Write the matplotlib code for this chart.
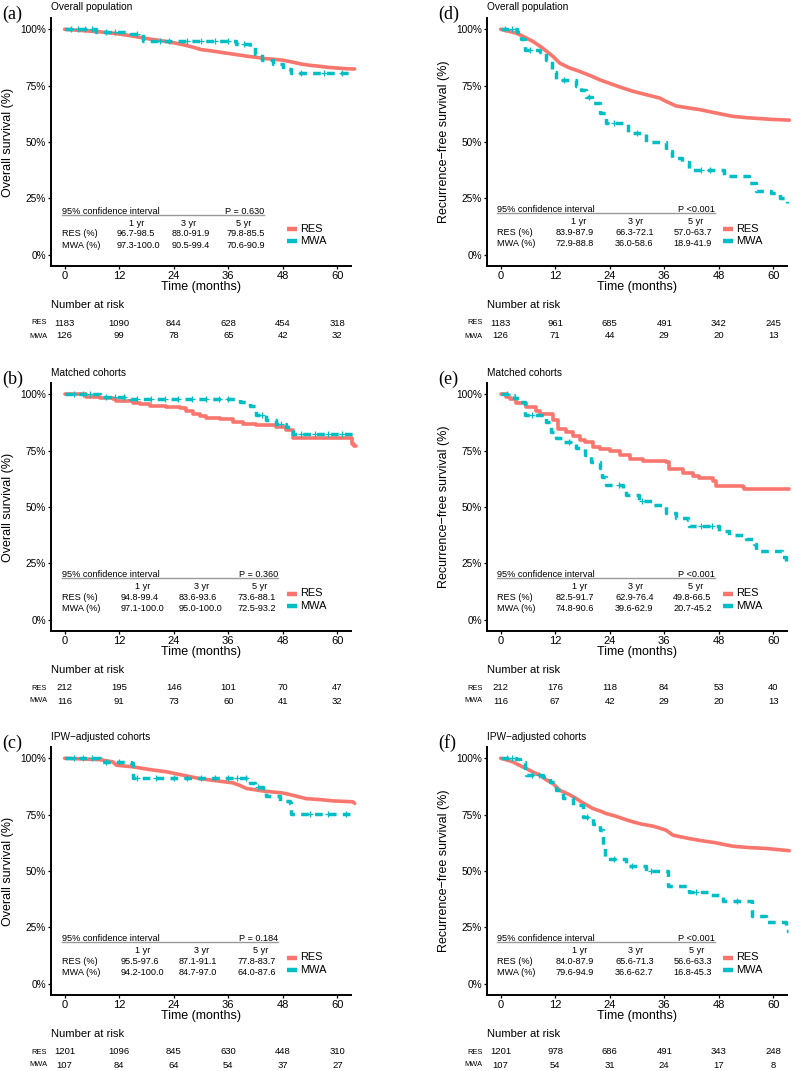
import numpy as np
import matplotlib
matplotlib.use("Agg")
import matplotlib.pyplot as plt
from matplotlib.lines import Line2D
from matplotlib.transforms import blended_transform_factory

plt.rcParams['font.family'] = ['Liberation Sans', 'DejaVu Sans']

RES_COLOR = '#F8766D'
MWA_COLOR = '#00BFC4'

risk_times = [0, 12, 24, 36, 48, 60]
x_ticks = [0, 12, 24, 36, 48, 60]
y_ticks = [0, 0.25, 0.5, 0.75, 1.0]
y_tick_labels = ['0%', '25%', '50%', '75%', '100%']
ci_years = ['1 yr', '3 yr', '5 yr']

# ---------------- panel (a): OS overall population ----------------
a_res_t = [0, 2, 4, 6, 8, 10, 12, 14, 16, 18, 20, 22, 24, 26, 28, 30, 32, 34, 36, 38, 40, 42, 44, 46, 48,
           50, 52, 54, 56, 58, 60, 62, 63.8]
a_res_s = [1.0, 0.997, 0.994, 0.991, 0.988, 0.984, 0.979, 0.973, 0.966, 0.959, 0.953, 0.947, 0.940, 0.932,
           0.922, 0.910, 0.905, 0.899, 0.893, 0.887, 0.881, 0.876, 0.870, 0.867, 0.863, 0.855, 0.846, 0.840,
           0.836, 0.831, 0.828, 0.825, 0.824]
a_mwa_t = [0, 7, 14.6, 17.2, 37.8, 40.7, 41.8, 43.5, 45.8, 48, 49.8, 63.7]
a_mwa_s = [1.0, 0.99, 0.98, 0.95, 0.935, 0.92, 0.89, 0.863, 0.845, 0.823, 0.804, 0.804]
a_mwa_cens = [1.5, 3, 4.5, 6, 9, 11, 16, 21, 23, 27, 30, 33, 36, 39.5, 52, 57, 61]
a_res_risk = [1183, 1090, 844, 628, 454, 318]
a_mwa_risk = [126, 99, 78, 65, 42, 32]
a_p = 'P = 0.630'
a_res_ci = ['96.7-98.5', '88.0-91.9', '79.8-85.5']
a_mwa_ci = ['97.3-100.0', '90.5-99.4', '70.6-90.9']

# ---------------- panel (b): OS matched cohorts ----------------
b_res_t = [0, 4.8, 7.7, 10.6, 11.4, 15, 16.5, 18.7, 22.4, 25.3, 26.8, 28.2, 29.7, 31.2, 34.1, 37, 39.2,
           42.2, 46.5, 48.7, 50.2, 63.3, 63.6, 64]
b_res_s = [1.0, 0.99, 0.984, 0.977, 0.968, 0.962, 0.958, 0.95, 0.943, 0.939, 0.928, 0.914, 0.904, 0.895,
           0.889, 0.877, 0.87, 0.863, 0.855, 0.84, 0.808, 0.78, 0.77, 0.77]
b_mwa_t = [0, 7.7, 14.3, 38.5, 40.7, 42.1, 44.3, 46.5, 48.7, 50.2, 63.7]
b_mwa_s = [1.0, 0.99, 0.98, 0.965, 0.95, 0.906, 0.885, 0.866, 0.855, 0.826, 0.826]
b_mwa_cens = [2, 4, 5.5, 9, 11, 13, 16, 19, 22, 25, 28, 31, 34, 36, 43.5, 47.5, 52, 55, 58, 61]
b_res_risk = [212, 195, 146, 101, 70, 47]
b_mwa_risk = [116, 91, 73, 60, 41, 32]
b_p = 'P = 0.360'
b_res_ci = ['94.8-99.4', '83.6-93.6', '73.6-88.1']
b_mwa_ci = ['97.1-100.0', '95.0-100.0', '72.5-93.2']

# ---------------- panel (c): OS IPW-adjusted cohorts ----------------
c_res_t = [0, 4, 7.7, 10.6, 11.4, 15, 18.7, 22.4, 26, 29.7, 33.4, 37, 38.5, 40, 43.6, 48, 50.2, 53.1,
           56, 59, 63.4, 63.8]
c_res_s = [1.0, 0.997, 0.994, 0.984, 0.969, 0.962, 0.95, 0.94, 0.925, 0.91, 0.90, 0.891, 0.88, 0.866,
           0.855, 0.846, 0.836, 0.821, 0.817, 0.811, 0.807, 0.80]
c_mwa_t = [0, 7.7, 14.6, 15, 40.8, 41.8, 43.6, 44.4, 47.3, 49.5, 49.8, 63.7]
c_mwa_s = [1.0, 0.984, 0.977, 0.912, 0.889, 0.874, 0.854, 0.832, 0.81, 0.80, 0.752, 0.752]
c_mwa_cens = [2, 4, 6, 9, 12, 16, 20, 24, 27, 30, 33, 36, 38, 40, 42.5, 54, 58, 62]
c_res_risk = [1201, 1096, 845, 630, 448, 310]
c_mwa_risk = [107, 84, 64, 54, 37, 27]
c_p = 'P = 0.184'
c_res_ci = ['95.5-97.6', '87.1-91.1', '77.8-83.7']
c_mwa_ci = ['94.2-100.0', '84.7-97.0', '64.0-87.6']

# ---------------- panel (d): RFS overall population ----------------
d_res_t = [0, 2, 3.4, 5, 7.1, 9, 11.5, 13, 15, 17.4, 20, 21.8, 24, 26.2, 29.1, 32, 35, 36.4, 38.6, 41,
           43.7, 47.3, 51, 54, 56.9, 60, 63.5]
d_res_s = [1.0, 0.99, 0.983, 0.968, 0.946, 0.92, 0.88, 0.85, 0.83, 0.813, 0.792, 0.776, 0.76, 0.744,
           0.725, 0.71, 0.695, 0.68, 0.66, 0.652, 0.644, 0.629, 0.614, 0.608, 0.604, 0.600, 0.597]
d_mwa_t = [0, 3.5, 4.5, 5.3, 8.6, 10, 11.4, 12.2, 16.6, 17.7, 18.8, 20.2, 21.8, 23.2, 28, 32, 36.4,
           37.8, 40, 41.5, 49.2, 54.7, 56.2, 59.5, 61.5, 63]
d_mwa_s = [1.0, 0.99, 0.955, 0.91, 0.90, 0.865, 0.81, 0.775, 0.748, 0.73, 0.70, 0.673, 0.63, 0.585,
           0.54, 0.50, 0.46, 0.43, 0.41, 0.378, 0.348, 0.32, 0.282, 0.272, 0.25, 0.23]
d_mwa_cens = [1, 2.5, 6.5, 14, 19.5, 25, 30, 44, 46]
d_res_risk = [1183, 961, 685, 491, 342, 245]
d_mwa_risk = [126, 71, 44, 29, 20, 13]
d_p = 'P <0.001'
d_res_ci = ['83.9-87.9', '66.3-72.1', '57.0-63.7']
d_mwa_ci = ['72.9-88.8', '36.0-58.6', '18.9-41.9']

# ---------------- panel (e): RFS matched cohorts ----------------
e_res_t = [0, 1.2, 2, 3.4, 5.6, 7.8, 8.6, 11.5, 12.6, 14.4, 15.9, 17.4, 18.5, 20.3, 21.8, 24, 26.2,
           28.4, 31.3, 36.4, 37.1, 40.1, 42.3, 43.7, 46.7, 47.4, 53.3, 53.6, 63.5]
e_res_s = [1.0, 0.987, 0.977, 0.962, 0.943, 0.924, 0.911, 0.885, 0.848, 0.831, 0.816, 0.797, 0.787,
           0.768, 0.757, 0.749, 0.73, 0.713, 0.706, 0.70, 0.667, 0.652, 0.637, 0.627, 0.616, 0.594,
           0.587, 0.578, 0.578]
e_mwa_t = [0, 2.7, 3, 4.2, 5.3, 5.4, 10, 11.1, 12.2, 13.7, 16.6, 18.5, 19.9, 21.8, 22.2, 23.2, 26.9,
           27.6, 30.5, 33.5, 36.4, 38.6, 41.2, 41.5, 48.1, 50.3, 54, 55.8, 56.2, 62, 62.8, 63.2]
e_mwa_s = [1.0, 0.995, 0.985, 0.965, 0.928, 0.91, 0.877, 0.833, 0.804, 0.789, 0.763, 0.73, 0.70,
           0.671, 0.634, 0.598, 0.576, 0.554, 0.525, 0.507, 0.474, 0.452, 0.441, 0.415, 0.393, 0.377,
           0.357, 0.338, 0.307, 0.278, 0.245, 0.245]
e_mwa_cens = [1.5, 7, 15, 26, 31, 44, 46.5]
e_res_risk = [212, 176, 118, 84, 53, 40]
e_mwa_risk = [116, 67, 42, 29, 20, 13]
e_p = 'P <0.001'
e_res_ci = ['82.5-91.7', '62.9-76.4', '49.8-66.5']
e_mwa_ci = ['74.8-90.6', '39.6-62.9', '20.7-45.2']

# ---------------- panel (f): RFS IPW-adjusted cohorts ----------------
f_res_t = [0, 1.3, 2.7, 4, 5.6, 7, 8.6, 10, 11.5, 13, 15, 16.6, 17.7, 19, 20.3, 22, 23.2, 25, 26.2,
           27.5, 29.1, 31, 33.5, 35, 36.4, 37.9, 39.5, 41.5, 44, 47.4, 49, 51.1, 54.5, 58.4, 61, 63.5]
f_res_s = [1.0, 0.993, 0.984, 0.97, 0.955, 0.94, 0.925, 0.905, 0.888, 0.858, 0.84, 0.822, 0.807,
           0.792, 0.777, 0.765, 0.755, 0.745, 0.737, 0.728, 0.718, 0.708, 0.699, 0.69, 0.681, 0.659,
           0.652, 0.644, 0.635, 0.625, 0.618, 0.61, 0.604, 0.60, 0.595, 0.59]
f_mwa_t = [0, 3.4, 4.2, 5.3, 5.6, 9.3, 10.8, 12.2, 13.7, 15.9, 18.1, 20.3, 21.8, 22.5, 22.9, 27.6, 32,
           36.8, 41.5, 46, 48.9, 55.4, 58.4, 62.8, 63.2]
f_mwa_s = [1.0, 0.997, 0.984, 0.94, 0.925, 0.917, 0.895, 0.858, 0.822, 0.792, 0.74, 0.71, 0.681,
           0.607, 0.555, 0.52, 0.50, 0.435, 0.405, 0.395, 0.369, 0.302, 0.272, 0.233, 0.233]
f_mwa_cens = [1.5, 2.5, 7, 8.5, 19, 25, 29, 33, 43, 52]
f_res_risk = [1201, 978, 686, 491, 343, 248]
f_mwa_risk = [107, 54, 31, 24, 17, 8]
f_p = 'P <0.001'
f_res_ci = ['84.0-87.9', '65.6-71.3', '56.6-63.3']
f_mwa_ci = ['79.6-94.9', '36.6-62.7', '16.8-45.3']

titles = ['Overall population', 'Matched cohorts', 'IPW\u2212adjusted cohorts']
ylabels = ['Overall survival (%)', 'Recurrence\u2212free survival (%)']

panels = [
    dict(tag='(a)', col=0, row=0, res=(a_res_t, a_res_s), mwa=(a_mwa_t, a_mwa_s), cens=a_mwa_cens,
         rr=a_res_risk, mr=a_mwa_risk, p=a_p, rci=a_res_ci, mci=a_mwa_ci, big=True),
    dict(tag='(b)', col=0, row=1, res=(b_res_t, b_res_s), mwa=(b_mwa_t, b_mwa_s), cens=b_mwa_cens,
         rr=b_res_risk, mr=b_mwa_risk, p=b_p, rci=b_res_ci, mci=b_mwa_ci, big=False),
    dict(tag='(c)', col=0, row=2, res=(c_res_t, c_res_s), mwa=(c_mwa_t, c_mwa_s), cens=c_mwa_cens,
         rr=c_res_risk, mr=c_mwa_risk, p=c_p, rci=c_res_ci, mci=c_mwa_ci, big=True),
    dict(tag='(d)', col=1, row=0, res=(d_res_t, d_res_s), mwa=(d_mwa_t, d_mwa_s), cens=d_mwa_cens,
         rr=d_res_risk, mr=d_mwa_risk, p=d_p, rci=d_res_ci, mci=d_mwa_ci, big=True),
    dict(tag='(e)', col=1, row=1, res=(e_res_t, e_res_s), mwa=(e_mwa_t, e_mwa_s), cens=e_mwa_cens,
         rr=e_res_risk, mr=e_mwa_risk, p=e_p, rci=e_res_ci, mci=e_mwa_ci, big=False),
    dict(tag='(f)', col=1, row=2, res=(f_res_t, f_res_s), mwa=(f_mwa_t, f_mwa_s), cens=f_mwa_cens,
         rr=f_res_risk, mr=f_mwa_risk, p=f_p, rci=f_res_ci, mci=f_mwa_ci, big=True),
]

# layout (pixels)
W, H = 794, 1071
COL_X = [51, 487]
ROW_Y = [0, 365, 729]
CI_LAYOUT = {
    '(a)': (11, [65.7, 120.7, 175.7], [86, 138, 193], 213, 211),
    '(b)': (10.7, [69.7, 128, 187], [92, 150.5, 209], 227, 209.5),
    '(c)': (10.7, [69.7, 128, 187], [92, 150.5, 210], 227, 209.5),
    '(d)': (10.3, [69, 128, 186.3], [92, 149, 209], 228, 209.5),
    '(e)': (10.3, [69, 128, 186.3], [93, 149, 209], 228, 209.5),
    '(f)': (10.3, [69, 128, 186.3], [93, 149, 210], 228, 209.5),
}


def fx(x):
    return x / W


def fy(y):
    return 1 - y / H


def step_value(t, s, x):
    idx = np.searchsorted(np.asarray(t), x, side='right') - 1
    return np.asarray(s)[np.clip(idx, 0, len(s) - 1)]


fig = plt.figure(figsize=(W / 100, H / 100), dpi=100)

for p in panels:
    sx = COL_X[p['col']]
    ry = ROW_Y[p['row']]
    ax = fig.add_axes([fx(sx), fy(ry + 266), 300 / W, 248 / H])
    ax.set_xlim(-3, 63)
    ax.set_ylim(-0.05, 1.05)
    for side in ['top', 'right']:
        ax.spines[side].set_visible(False)
    for side in ['left', 'bottom']:
        ax.spines[side].set_linewidth(1.4)
        ax.spines[side].set_color('black')
    ax.set_xticks(x_ticks)
    ax.set_xticklabels([str(v) for v in x_ticks], fontsize=8)
    ax.set_yticks(y_ticks)
    ax.set_yticklabels(y_tick_labels, fontsize=7.3)
    ax.tick_params(axis='both', length=2.5, width=0.9, pad=1, colors='black')

    rt, rs = p['res']
    mt, ms = p['mwa']
    ax.plot(rt, rs, drawstyle='default' if p['big'] else 'steps-post', color=RES_COLOR, lw=2.6,
            clip_on=False, solid_joinstyle='round', solid_capstyle='round', zorder=3)
    ax.plot(mt, ms, drawstyle='steps-post', color=MWA_COLOR, lw=2.5, clip_on=False,
            dashes=(2.2, 1.8), zorder=4)
    cens = np.asarray(p['cens'])
    ax.plot(cens, step_value(mt, ms, cens), ls='none', marker='+', ms=4, mew=0.9,
            color=MWA_COLOR, clip_on=False, zorder=5)

    fig.text(fx(sx), fy(ry + 7.5), titles[p['row']], fontsize=7.3, ha='left', va='center')
    fig.text(fx(sx - 49), fy(ry + 14), p['tag'], fontsize=13, family='Liberation Serif',
             ha='left', va='center')
    fig.text(fx(sx - 43), fy(ry + 142), ylabels[p['col']], rotation=90, fontsize=9,
             ha='center', va='center')
    fig.text(fx(sx + 150), fy(ry + 287), 'Time (months)', fontsize=9, ha='center', va='center')

    # CI table
    ldx, lefts, heads, endx, hy = CI_LAYOUT[p['tag']]
    ci_fs = 6.6
    fig.text(fx(sx + ldx), fy(ry + hy), '95% confidence interval', fontsize=ci_fs, ha='left', va='center')
    fig.text(fx(sx + endx), fy(ry + hy), p['p'], fontsize=ci_fs, ha='right', va='center')
    fig.add_artist(Line2D([fx(sx + ldx), fx(sx + endx)], [fy(ry + hy + 3.8)] * 2,
                          transform=fig.transFigure, color='#9a9a9a', lw=1.0))
    for k in range(3):
        fig.text(fx(sx + heads[k]), fy(ry + hy + 12), ci_years[k], fontsize=ci_fs, ha='center', va='center')
        fig.text(fx(sx + lefts[k]), fy(ry + hy + 23), p['rci'][k], fontsize=ci_fs, ha='left', va='center')
        fig.text(fx(sx + lefts[k]), fy(ry + hy + 34), p['mci'][k], fontsize=ci_fs, ha='left', va='center')
    fig.text(fx(sx + ldx), fy(ry + hy + 23), 'RES (%)', fontsize=ci_fs, ha='left', va='center')
    fig.text(fx(sx + ldx), fy(ry + hy + 34), 'MWA (%)', fontsize=ci_fs, ha='left', va='center')

    # legend
    for name, color, ly in [('RES', RES_COLOR, 228.5), ('MWA', MWA_COLOR, 241)]:
        fig.add_artist(Line2D([fx(sx + 236), fx(sx + 246)], [fy(ry + ly)] * 2,
                              transform=fig.transFigure, color=color, lw=3.2, solid_capstyle='butt'))
        fig.text(fx(sx + 249), fy(ry + ly), name, fontsize=7.9, ha='left', va='center')

    # risk table
    fig.text(fx(sx), fy(ry + 305), 'Number at risk', fontsize=8.1, ha='left', va='center')
    trans = blended_transform_factory(ax.transData, fig.transFigure)
    for name, vals, ly in [('RES', p['rr'], 323), ('MWA', p['mr'], 336)]:
        fig.text(fx(sx - 4), fy(ry + ly), name, fontsize=5.4, ha='right', va='center')
        for t, v in zip(risk_times, vals):
            ax.text(t, fy(ry + ly), str(v), transform=trans, fontsize=6.8, ha='center', va='center',
                    clip_on=False)

fig.savefig('out.png', dpi=100)
